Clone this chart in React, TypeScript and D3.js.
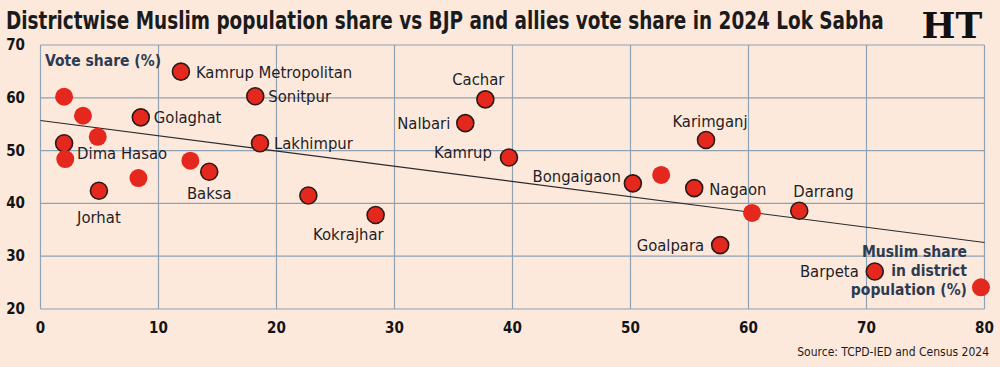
import React from "react";
import * as d3 from "d3";

// districts, Muslim share in population (%) and BJP+allies vote share (%)
const districts = [
  "", "", "", "Dima Hasao", "", "Jorhat", "", "Golaghat", "Kamrup Metropolitan",
  "", "Baksa", "Sonitpur", "Lakhimpur", "", "Kokrajhar", "Cachar", "Nalbari",
  "Kamrup", "Bongaigaon", "", "Karimganj", "Nagaon", "", "Darrang", "Goalpara",
  "Barpeta", "",
];
const muslimShare = [
  2.0, 3.6, 4.85, 2.0, 2.1, 4.95, 8.3, 8.5, 11.9,
  12.7, 14.3, 18.2, 18.6, 22.7, 28.4, 37.7, 36.0,
  39.7, 50.2, 52.6, 56.4, 55.4, 60.3, 64.3, 57.6,
  70.7, 79.7,
];
const voteShare = [
  60.2, 56.6, 52.6, 51.4, 48.4, 42.4, 44.8, 56.3, 64.95,
  48.1, 46.0, 60.3, 51.4, 41.5, 37.8, 59.7, 55.2,
  48.7, 43.8, 45.4, 52.0, 42.9, 38.2, 38.6, 32.1,
  27.1, 24.1,
];
// outlined markers
const marked = [
  false, false, false, true, false, true, false, true, true,
  false, true, true, true, true, true, true, true,
  true, true, false, true, true, false, true, true,
  true, false,
];

const xTicks = [0, 10, 20, 30, 40, 50, 60, 70, 80];
const yTicks = [20, 30, 40, 50, 60, 70];

// fitted trend line: vote share at x = 0 and x = 80
const trendAt0 = 55.7;
const trendAt80 = 32.6;

const title = "Districtwise Muslim population share vs BJP and allies vote share in 2024 Lok Sabha";
const yTitle = "Vote share (%)";
const xTitle = ["Muslim share", "in district", "population (%)"];
const source = "Source: TCPD-IED and Census 2024";

// label placement relative to the marker: dx, dy, anchor
const labelPos: Record<string, [number, number, string]> = {
  "Dima Hasao": [13, 16, "start"],
  "Jorhat": [0, 32, "middle"],
  "Golaghat": [13, 6, "start"],
  "Kamrup Metropolitan": [15, 6, "start"],
  "Baksa": [0, 27, "middle"],
  "Sonitpur": [13, 6, "start"],
  "Lakhimpur": [14, 6, "start"],
  "Kokrajhar": [8, 25, "end"],
  "Cachar": [-7, -14, "middle"],
  "Nalbari": [-15, 6, "end"],
  "Kamrup": [-17, 1, "end"],
  "Bongaigaon": [-12, -1, "end"],
  "Karimganj": [4, -13, "middle"],
  "Nagaon": [15, 7, "start"],
  "Darrang": [-6, -14, "start"],
  "Goalpara": [-16, 6, "end"],
  "Barpeta": [-16, 5, "end"],
};

const W = 1000;
const H = 367;
const font = "'Liberation Sans Narrow', 'DejaVu Sans Condensed', 'Roboto', sans-serif";

export default function App() {
  const x = d3.scaleLinear().domain([0, 80]).range([40.5, 984.5]);
  const y = d3.scaleLinear().domain([20, 70]).range([309, 45]);
  const trend = d3.line<[number, number]>().x(d => x(d[0])).y(d => y(d[1]));

  const points = districts.map((name, i) => ({
    name, mx: muslimShare[i], vs: voteShare[i], marked: marked[i],
  }));

  return (
    <svg width={W} height={H} style={{ position: "absolute", left: 0, top: 0 }} fontFamily={font}>
      <rect width={W} height={H} fill="#fde9dc" />
      <text transform="translate(6,29) scale(1,1.2)" fontSize={20.5} fontWeight="bold" fill="#1b1b1b">{title}</text>
      <text x={952} y={38} fontSize={36} fontWeight="bold" fontFamily="'DejaVu Serif', serif"
        textAnchor="middle" fill="#111">HT</text>

      {/* grid */}
      <g stroke="#8ea2b4" strokeWidth={1.2}>
        {xTicks.map(t => (
          <line key={"gx" + t} x1={x(t)} x2={x(t)} y1={y(70)} y2={y(20)} />
        ))}
        {yTicks.map(t => (
          <line key={"gy" + t} x1={x(0)} x2={x(80)} y1={y(t)} y2={y(t)} />
        ))}
      </g>

      {/* tick labels */}
      <g fontSize={15} fontWeight="bold" fill="#141414">
        {yTicks.map(t => (
          <text key={"ty" + t} x={25} y={y(t) + 5} textAnchor="end">{t}</text>
        ))}
        {xTicks.map(t => (
          <text key={"tx" + t} x={x(t)} y={333} textAnchor="middle">{t}</text>
        ))}
      </g>

      <path d={trend([[0, trendAt0], [80, trendAt80]]) || ""} stroke="#2a2a2a" strokeWidth={1.1} fill="none" />

      <text x={45} y={66} fontSize={15.5} fontWeight="bold" fill="#2c3b52">{yTitle}</text>
      <g fontSize={15.5} fontWeight="bold" fill="#2c3b52" textAnchor="end">
        {xTitle.map((s, i) => (
          <text key={s} x={967} y={257 + i * 19}>{s}</text>
        ))}
      </g>

      {/* markers */}
      {points.map((p, i) => (
        <circle key={"c" + i} cx={x(p.mx)} cy={y(p.vs)} r={p.marked ? 8.5 : 9}
          fill="#e5281d" stroke={p.marked ? "#2b1a18" : "none"} strokeWidth={1.6} />
      ))}

      {/* labels */}
      <g fontSize={16.5} fill="#1e1e28">
        {points.filter(p => p.name).map(p => {
          const [dx, dy, anchor] = labelPos[p.name];
          return (
            <text key={"l" + p.name} x={x(p.mx) + dx} y={y(p.vs) + dy} textAnchor={anchor}>{p.name}</text>
          );
        })}
      </g>

      <text x={989} y={356} fontSize={12} fill="#1b1b1b" textAnchor="end">{source}</text>
    </svg>
  );
}
